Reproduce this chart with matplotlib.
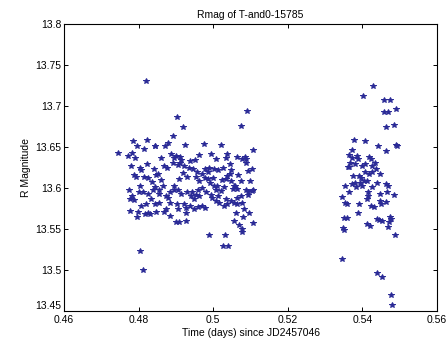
import matplotlib
matplotlib.use("Agg")
import matplotlib.pyplot as plt

title = "Rmag of T-and0-15785"
xlabel = "Time (days) since JD2457046"
ylabel = "R Magnitude"

xticks = [0.46, 0.48, 0.50, 0.52, 0.54, 0.56]
xticklabels = ["0.46", "0.48", "0.5", "0.52", "0.54", "0.56"]
yticks = [13.45, 13.5, 13.55, 13.6, 13.65, 13.7, 13.75, 13.8]
yticklabels = ["13.45", "13.5", "13.55", "13.6", "13.65", "13.7", "13.75", "13.8"]

# first observing block
t1 = [.4819, .4805, .4812, .4902, .4918, .5090, .5074, .4989, .5032, .5027, .5041, .4900, .4908, .4927, .4745,
      .4785, .4823, .4845, .4879, .4893, .4924, .4976, .5022,
      .4772, .4782, .4791, .4814, .4860, .4887, .4900, .4911, .4915, .4939, .4961, .4995, .5007, .5034, .5038,
      .5064, .5084, .5087, .5107,
      .4780, .4803, .4807, .4822, .4841, .4852, .4867, .4876, .4892, .4905, .4921, .4936, .4945, .4956, .4979,
      .4988, .5003, .5012, .5027, .5046, .5049, .5067, .5076, .5087, .5092, .5103,
      .4787, .4794, .4824, .4835, .4847, .4859, .4894, .4908, .4920, .4931, .4954, .4963, .4978, .4987, .4991,
      .5000, .5011, .5023, .5034, .5044, .5055, .5074, .5100, .5063,
      .4774, .4783, .4801, .4812, .4825, .4843, .4854, .4865, .4874, .4883, .4894, .4905, .4913, .4931, .4943,
      .4954, .4963, .4969, .4980, .4994, .5001, .5012, .5021, .5029, .5052, .5058, .5074, .5087, .5094, .5103, .5107,
      .4778, .4789, .4819, .4832, .4845, .4856, .4878, .4883, .4902, .4921, .4928, .4939, .4949, .4958, .4969,
      .4978, .4998, .5007, .5016, .5028, .5036, .5047, .5056, .5065, .5076, .5083, .5092,
      .4778, .4799, .4797, .4816, .4825, .4831, .4847, .4867, .4883, .4927, .5060, .5080, .5096, .5056, .5069,
      .5078, .5076, .5108,
      .4796, .4843, .4872, .4896, .4910, .4952, .4971, .4985, .5038, .5047, .4814, .4803, .4839, .4856, .4940,
      .4958, .5007, .5034, .5065, .4874, .4905, .4949, .4807]
m1 = [13.730, 13.523, 13.500, 13.686, 13.674, 13.694, 13.676, 13.543, 13.543, 13.529, 13.529, 13.558, 13.559, 13.560, 13.643,
      13.657, 13.658, 13.651, 13.655, 13.663, 13.653, 13.654, 13.652,
      13.639, 13.643, 13.636, 13.647, 13.636, 13.641, 13.639, 13.638, 13.634, 13.633, 13.640, 13.642, 13.635, 13.636, 13.642,
      13.638, 13.638, 13.635, 13.646,
      13.627, 13.625, 13.622, 13.629, 13.623, 13.617, 13.627, 13.624, 13.631, 13.628, 13.627, 13.625, 13.623, 13.619, 13.623,
      13.624, 13.623, 13.622, 13.625, 13.629, 13.622, 13.616, 13.635, 13.630, 13.621, 13.623,
      13.616, 13.613, 13.612, 13.607, 13.616, 13.610, 13.603, 13.611, 13.618, 13.614, 13.613, 13.609, 13.612, 13.611, 13.606,
      13.612, 13.603, 13.610, 13.611, 13.617, 13.603, 13.609, 13.608, 13.599,
      13.598, 13.590, 13.595, 13.595, 13.593, 13.601, 13.593, 13.603, 13.590, 13.595, 13.597, 13.598, 13.593, 13.595, 13.595,
      13.592, 13.590, 13.600, 13.595, 13.592, 13.602, 13.590, 13.596, 13.601, 13.599, 13.603, 13.590, 13.597, 13.595, 13.596, 13.597,
      13.586, 13.585, 13.580, 13.586, 13.580, 13.582, 13.588, 13.582, 13.580, 13.580, 13.576, 13.578, 13.587, 13.577, 13.578,
      13.576, 13.588, 13.584, 13.582, 13.578, 13.580, 13.584, 13.582, 13.580, 13.582, 13.574, 13.592,
      13.572, 13.571, 13.565, 13.568, 13.570, 13.568, 13.571, 13.571, 13.566, 13.570, 13.569, 13.565, 13.569, 13.560, 13.555,
      13.550, 13.546, 13.557,
      13.651, 13.651, 13.651, 13.636, 13.631, 13.634, 13.617, 13.620, 13.615, 13.609, 13.614, 13.603, 13.597, 13.597, 13.590,
      13.597, 13.597, 13.586, 13.588, 13.574, 13.574, 13.574, 13.578]

# second observing block
t2 = [.5429, .5401, .5458, .5474, .5457, .5469, .5490, .5462, .5484, .5378, .5407, .5441, .5492, .5490, .5463,
      .5373, .5364, .5372, .5367, .5364, .5361, .5385, .5389, .5380, .5398, .5407, .5418, .5422, .5427, .5434,
      .5436, .5425, .5407, .5391, .5376, .5396, .5403, .5394, .5418, .5354, .5372, .5380, .5398, .5412, .5447,
      .5438, .5463, .5469, .5427, .5382, .5363, .5345, .5354, .5358, .5391, .5414, .5416, .5412, .5423, .5432,
      .5447, .5447, .5450, .5465, .5463, .5485, .5389, .5352, .5358, .5348, .5352, .5413, .5420, .5438, .5445,
      .5452, .5474, .5478, .5471, .5468, .5487, .5345, .5438, .5453, .5476, .5480]
m2 = [13.724, 13.712, 13.707, 13.707, 13.693, 13.693, 13.696, 13.674, 13.677, 13.659, 13.657, 13.651, 13.651, 13.653, 13.645,
      13.646, 13.640, 13.636, 13.631, 13.626, 13.626, 13.639, 13.635, 13.629, 13.627, 13.629, 13.638, 13.635, 13.627, 13.630,
      13.623, 13.619, 13.619, 13.615, 13.615, 13.612, 13.608, 13.606, 13.617, 13.603, 13.605, 13.606, 13.603, 13.608, 13.617,
      13.606, 13.605, 13.603, 13.601, 13.601, 13.595, 13.589, 13.582, 13.580, 13.580, 13.595, 13.590, 13.586, 13.578, 13.577,
      13.593, 13.584, 13.580, 13.595, 13.583, 13.592, 13.569, 13.564, 13.563, 13.551, 13.549, 13.556, 13.554, 13.562, 13.561,
      13.560, 13.565, 13.562, 13.559, 13.552, 13.543, 13.513, 13.496, 13.492, 13.470, 13.457]

plt.rcParams['font.family'] = ['Liberation Sans', 'DejaVu Sans']

fig = plt.figure(figsize=(4.47, 3.47), dpi=100)
ax = fig.add_axes([64 / 447, 36 / 347, 373 / 447, 287 / 347])

color = '#2a2a96'
ax.plot(t1 + t2, m1 + m2, linestyle='none', marker='*', markersize=4,
        color=color, markeredgewidth=0.7)

ax.set_xlim(0.46, 0.56)
ax.set_ylim(13.45, 13.8)
ax.set_xticks(xticks)
ax.set_xticklabels(xticklabels)
ax.set_yticks(yticks)
ax.set_yticklabels(yticklabels)
ax.tick_params(direction='in', top=True, right=True, labelsize=7.5, length=3, width=0.7)
ax.tick_params(axis='x', pad=3)
ax.tick_params(axis='y', pad=2)
ax.get_yticklabels()[0].set_verticalalignment('bottom')
for s in ax.spines.values():
    s.set_linewidth(0.8)

ax.set_title(title, fontsize=7.5, pad=4)
ax.set_xlabel(xlabel, fontsize=7.5, labelpad=2)
ax.set_ylabel(ylabel, fontsize=7.5, labelpad=3)

fig.savefig("out.png", dpi=100)
